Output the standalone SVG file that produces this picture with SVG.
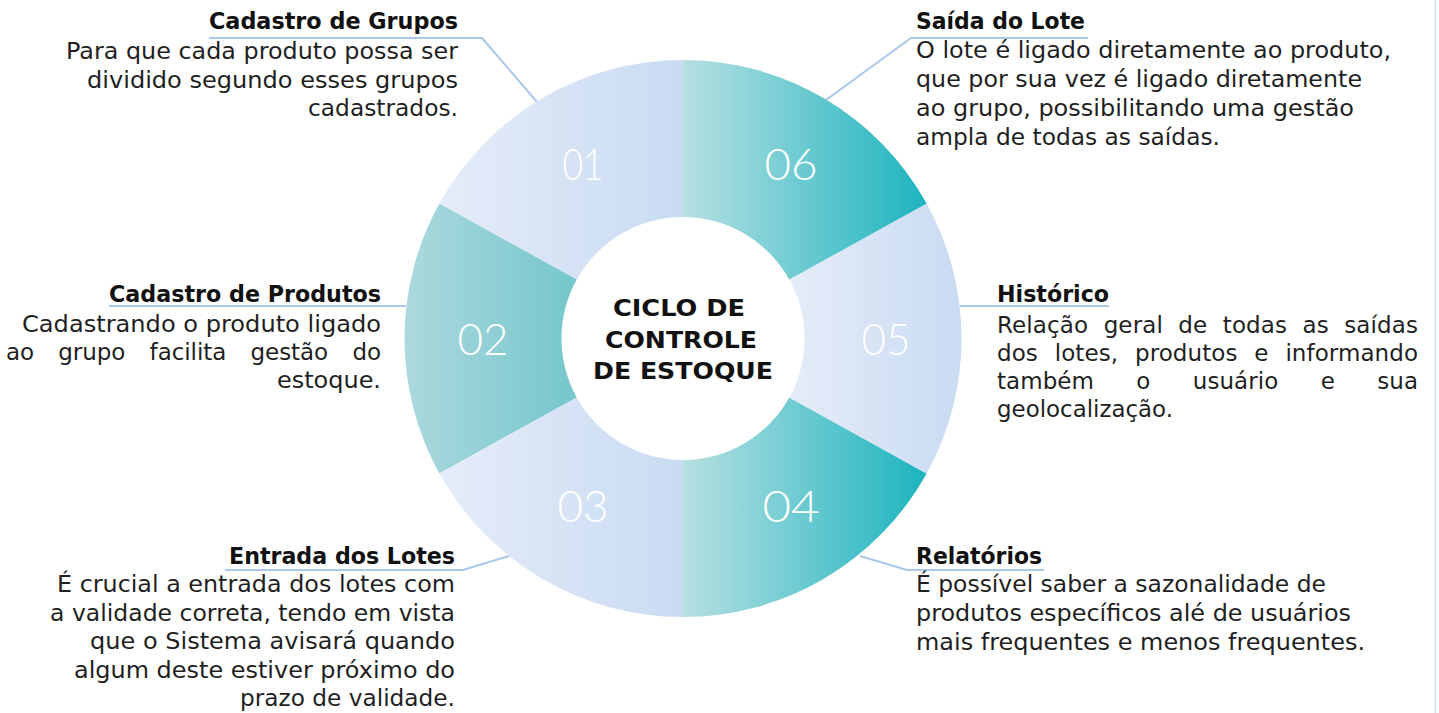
<svg xmlns="http://www.w3.org/2000/svg" width="1439" height="713" viewBox="0 0 1439 713">
<defs>
<linearGradient id="gLight" x1="0" y1="0" x2="1" y2="0"><stop offset="0" stop-color="#e5ecf9"/><stop offset="1" stop-color="#c9dbf2"/></linearGradient>
<linearGradient id="gTeal" x1="0" y1="0" x2="1" y2="0"><stop offset="0" stop-color="#b7e0e2"/><stop offset="1" stop-color="#1cb4bf"/></linearGradient>
<linearGradient id="gTeal2" x1="0" y1="0" x2="1" y2="0"><stop offset="0" stop-color="#acd9de"/><stop offset="1" stop-color="#74c6cc"/></linearGradient>
<style>
.t{font-family:"DejaVu Sans","Liberation Sans",sans-serif;font-size:23px;fill:#1f1f1f}
.h{font-family:"DejaVu Sans","Liberation Sans",sans-serif;font-size:23px;font-weight:bold;fill:#111}
.e{text-anchor:end}
.n{font-family:Lato,"DejaVu Sans",sans-serif;font-weight:300;font-size:43px;fill:#ffffff;text-anchor:middle}
.c{font-family:"DejaVu Sans","Liberation Sans",sans-serif;font-size:23px;font-weight:bold;fill:#111;text-anchor:middle}
.ln{fill:none;stroke:#a8c8ec;stroke-width:2}
</style>
</defs>
<rect width="1439" height="713" fill="#ffffff"/>
<line x1="1435.5" y1="0" x2="1435.5" y2="713" stroke="#c6e6ec" stroke-width="1.5"/>

<g id="connectors">
<polyline class="ln" points="209,38 482,38 537,102"/>
<polyline class="ln" points="1088,38 911,38 826,100"/>
<polyline class="ln" points="109,306 406,306"/>
<polyline class="ln" points="960,306 1109,306"/>
<polyline class="ln" points="225,570 463,570 509,556"/>
<polyline class="ln" points="860,556 907,570 1044,570"/>
</g>

<g id="node-01">
<path d="M683,60 A278.5,278.5 0 0 0 439.4,203.5 L576.7,279.6 A121.5,121.5 0 0 1 683,217 Z" fill="url(#gLight)"/>
<text class="n" x="583" y="180" textLength="41" lengthAdjust="spacingAndGlyphs">01</text>
<text class="h e" x="458" y="29" textLength="249" lengthAdjust="spacingAndGlyphs">Cadastro de Grupos</text>
<text class="t e" x="458" y="59" textLength="392" lengthAdjust="spacingAndGlyphs">Para que cada produto possa ser</text>
<text class="t e" x="458" y="88" textLength="371" lengthAdjust="spacingAndGlyphs">dividido segundo esses grupos</text>
<text class="t e" x="458" y="116" textLength="150" lengthAdjust="spacingAndGlyphs">cadastrados.</text>
</g>

<g id="node-02">
<path d="M439.4,203.5 A278.5,278.5 0 0 0 439.4,473.5 L576.7,397.4 A121.5,121.5 0 0 1 576.7,279.6 Z" fill="url(#gTeal2)"/>
<text class="n" x="483" y="355" textLength="51" lengthAdjust="spacingAndGlyphs">02</text>
<text class="h e" x="381" y="302" textLength="272" lengthAdjust="spacingAndGlyphs">Cadastro de Produtos</text>
<text class="t e" x="381" y="332" textLength="359" lengthAdjust="spacingAndGlyphs">Cadastrando o produto ligado</text>
<text class="t" x="6" y="360" word-spacing="17" textLength="375" lengthAdjust="spacing">ao grupo facilita gestão do</text>
<text class="t e" x="381" y="388" textLength="104" lengthAdjust="spacingAndGlyphs">estoque.</text>
</g>

<g id="node-03">
<path d="M439.4,473.5 A278.5,278.5 0 0 0 683,617 L683,460 A121.5,121.5 0 0 1 576.7,397.4 Z" fill="url(#gLight)"/>
<text class="n" x="583" y="522" textLength="51" lengthAdjust="spacingAndGlyphs">03</text>
<text class="h e" x="455" y="564" textLength="226" lengthAdjust="spacingAndGlyphs">Entrada dos Lotes</text>
<text class="t e" x="455" y="592" textLength="398" lengthAdjust="spacingAndGlyphs">É crucial a entrada dos lotes com</text>
<text class="t e" x="455" y="621" textLength="405" lengthAdjust="spacingAndGlyphs">a validade correta, tendo em vista</text>
<text class="t e" x="455" y="649" textLength="365" lengthAdjust="spacingAndGlyphs">que o Sistema avisará quando</text>
<text class="t e" x="455" y="678" textLength="381" lengthAdjust="spacingAndGlyphs">algum deste estiver próximo do</text>
<text class="t e" x="455" y="706" textLength="215" lengthAdjust="spacingAndGlyphs">prazo de validade.</text>
</g>

<g id="node-04">
<path d="M683,617 A278.5,278.5 0 0 0 926.6,473.5 L789.3,397.4 A121.5,121.5 0 0 1 683,460 Z" fill="url(#gTeal)"/>
<text class="n" x="791" y="522" textLength="57" lengthAdjust="spacingAndGlyphs">04</text>
<text class="h" x="916" y="564" textLength="126" lengthAdjust="spacingAndGlyphs">Relatórios</text>
<text class="t" x="916" y="592" textLength="410" lengthAdjust="spacingAndGlyphs">É possível saber a sazonalidade de</text>
<text class="t" x="916" y="621" textLength="435" lengthAdjust="spacingAndGlyphs">produtos específicos alé de usuários</text>
<text class="t" x="916" y="650" textLength="449" lengthAdjust="spacingAndGlyphs">mais frequentes e menos frequentes.</text>
</g>

<g id="node-05">
<path d="M926.6,473.5 A278.5,278.5 0 0 0 926.6,203.5 L789.3,279.6 A121.5,121.5 0 0 1 789.3,397.4 Z" fill="url(#gLight)"/>
<text class="n" x="886" y="355" textLength="49" lengthAdjust="spacingAndGlyphs">05</text>
<text class="h" x="997" y="302" textLength="112" lengthAdjust="spacingAndGlyphs">Histórico</text>
<text class="t" x="997" y="333" word-spacing="8" textLength="421" lengthAdjust="spacing">Relação geral de todas as saídas</text>
<text class="t" x="997" y="361" word-spacing="9.5" textLength="421" lengthAdjust="spacing">dos lotes, produtos e informando</text>
<text class="t" x="997" y="389" word-spacing="35" textLength="421" lengthAdjust="spacing">também o usuário e sua</text>
<text class="t" x="997" y="417" textLength="176" lengthAdjust="spacingAndGlyphs">geolocalização.</text>
</g>

<g id="node-06">
<path d="M926.6,203.5 A278.5,278.5 0 0 0 683,60 L683,217 A121.5,121.5 0 0 1 789.3,279.6 Z" fill="url(#gTeal)"/>
<text class="n" x="791" y="180" textLength="53" lengthAdjust="spacingAndGlyphs">06</text>
<text class="h" x="916" y="29" textLength="169" lengthAdjust="spacingAndGlyphs">Saída do Lote</text>
<text class="t" x="916" y="58" textLength="475" lengthAdjust="spacingAndGlyphs">O lote é ligado diretamente ao produto,</text>
<text class="t" x="916" y="87" textLength="446" lengthAdjust="spacingAndGlyphs">que por sua vez é ligado diretamente</text>
<text class="t" x="916" y="116" textLength="438" lengthAdjust="spacingAndGlyphs">ao grupo, possibilitando uma gestão</text>
<text class="t" x="916" y="145" textLength="304" lengthAdjust="spacingAndGlyphs">ampla de todas as saídas.</text>
</g>

<g id="center">
<text class="c" x="679" y="316" textLength="132" lengthAdjust="spacingAndGlyphs">CICLO DE</text>
<text class="c" x="681" y="348" textLength="152" lengthAdjust="spacingAndGlyphs">CONTROLE</text>
<text class="c" x="683" y="379" textLength="180" lengthAdjust="spacingAndGlyphs">DE ESTOQUE</text>
</g>
</svg>
